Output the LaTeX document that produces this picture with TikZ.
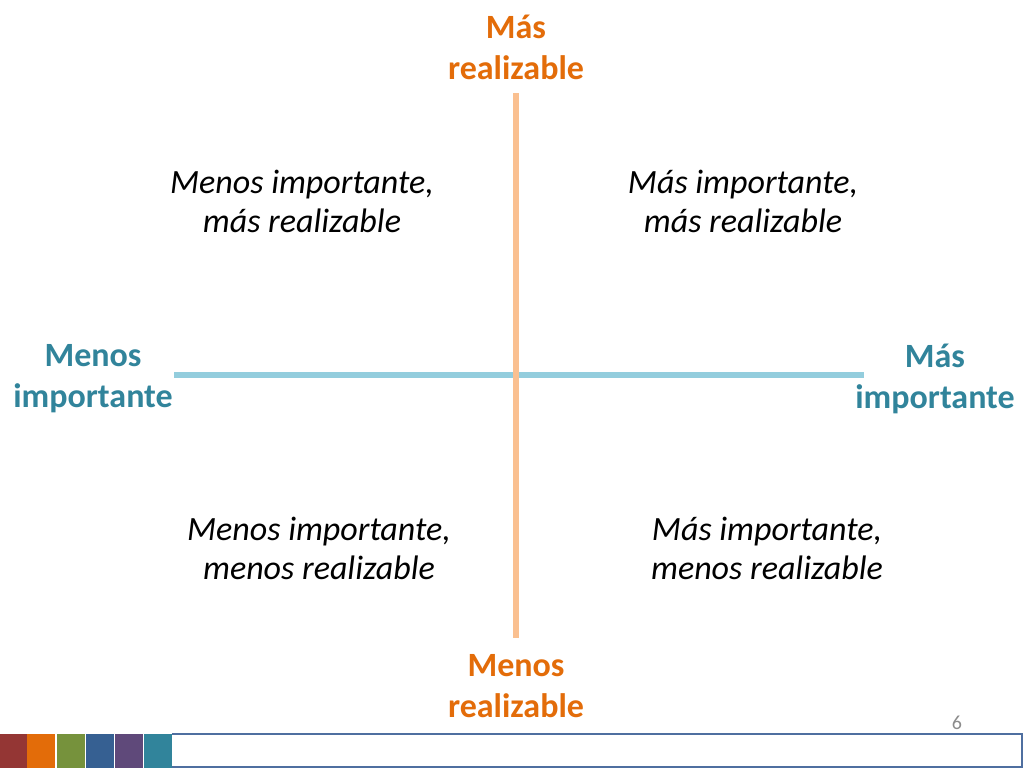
\documentclass[tikz,border=0pt]{standalone}
\usepackage{fontspec}
\setmainfont{Carlito}
\definecolor{axorange}{HTML}{FAC090}
\definecolor{axblue}{HTML}{93CDDD}
\definecolor{txorange}{HTML}{E36C09}
\definecolor{txteal}{HTML}{31849B}
\definecolor{c1}{HTML}{943634}
\definecolor{c2}{HTML}{E36C09}
\definecolor{c3}{HTML}{76923C}
\definecolor{c4}{HTML}{366092}
\definecolor{c5}{HTML}{5F497A}
\definecolor{c6}{HTML}{31849B}
\definecolor{barblue}{HTML}{4F6FA0}
\definecolor{pggray}{HTML}{8C8C8C}
\tikzset{
  axlabel/.style={align=center, font=\fontsize{34}{41}\selectfont\bfseries, inner sep=0pt},
  quad/.style={align=center, font=\fontsize{34}{39}\selectfont\itshape, inner sep=0pt}
}
\begin{document}
\begin{tikzpicture}[x=1pt,y=-1pt]
\useasboundingbox (0,0) rectangle (1024,768);
\fill[white] (0,0) rectangle (1024,768);
% axes
\coordinate (hl) at (174,375);
\coordinate (hr) at (864,375);
\coordinate (vt) at (516,93);
\coordinate (vb) at (516,638);
\draw[axblue, line width=6pt] (hl) -- (hr);
\draw[axorange, line width=6pt] (vt) -- (vb);
% axis labels
\node[axlabel, text=txorange] (top) at (516,47) {Más\\realizable};
\node[axlabel, text=txorange] (bot) at (516,686) {Menos\\realizable};
\node[axlabel, text=txteal] (left) at (93,379) {Menos\\importante};
\node[axlabel, text=txteal] (right) at (935,379) {Más\\importante};
% quadrants
\node[quad] (q1) at (302,201) {Menos importante,\\más realizable};
\node[quad] (q2) at (743,201) {Más importante,\\más realizable};
\node[quad] (q3) at (319,548) {Menos importante,\\menos realizable};
\node[quad] (q4) at (767,548) {Más importante,\\menos realizable};
% footer bar
\fill[c1] (0,734) rectangle (27,768);
\fill[c2] (27,734) rectangle (55,768);
\fill[c3] (57,734) rectangle (85,768);
\fill[c4] (86,734) rectangle (114,768);
\fill[c5] (115,734) rectangle (143,768);
\fill[c6] (144,734) rectangle (172,768);
\draw[barblue, line width=2pt] (172,734) -- (1022,734) -- (1022,767) -- (172,767);
\node[text=pggray, font=\fontsize{20}{22}\selectfont, inner sep=0pt] (pg) at (957,723) {6};
\end{tikzpicture}
\end{document}
